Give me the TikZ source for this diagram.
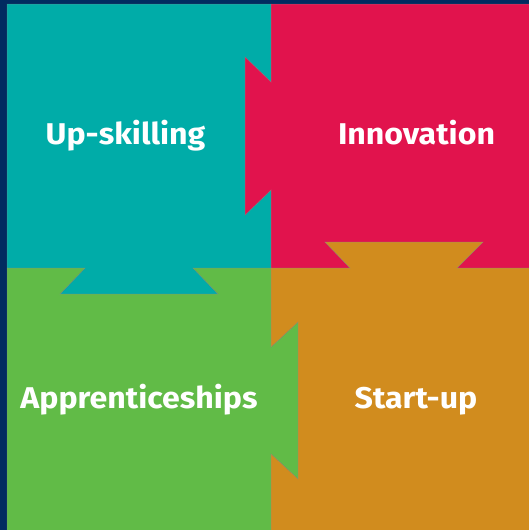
\documentclass[tikz,border=0pt]{standalone}
\usepackage{fontspec}
\setmainfont{Fira Sans}
\definecolor{navy}{HTML}{012B60}
\definecolor{teal}{HTML}{00ACA8}
\definecolor{crimson}{HTML}{E1134D}
\definecolor{leaf}{HTML}{61BB47}
\definecolor{amber}{HTML}{D18C1E}
\begin{document}
\begin{tikzpicture}[x=1pt,y=-1pt,
  piece/.style={draw=black!45,draw opacity=0.5,line width=0.5pt,line join=miter},
  lbl/.style={text=white,font=\fontsize{30}{31}\selectfont\bfseries,anchor=base,inner sep=0pt,xscale=1.07}]
\fill[navy] (0,0) rectangle (529,530);
\useasboundingbox (0,0) rectangle (529,530);
% teal (Up-skilling)
\filldraw[piece,fill=teal] (7,4)--(271,4)--(271,82)--(245,57)--(245,215)--(271,190)--(271,268)--(193,268)--(218,294)--(60,294)--(85,268)--(7,268)--cycle;
% crimson (Innovation)
\filldraw[piece,fill=crimson] (271,4)--(530,4)--(530,268)--(457,268)--(483,242)--(325,242)--(350,268)--(271,268)--(271,190)--(245,215)--(245,57)--(271,82)--cycle;
% green (Apprenticeships)
\filldraw[piece,fill=leaf] (7,268)--(85,268)--(60,294)--(218,294)--(193,268)--(271,268)--(271,347)--(298,322)--(298,479)--(271,454)--(271,531)--(7,531)--cycle;
% amber (Start-up)
\filldraw[piece,fill=amber] (271,268)--(350,268)--(325,242)--(483,242)--(457,268)--(530,268)--(530,531)--(271,531)--(271,454)--(298,479)--(298,322)--(271,347)--cycle;
\node[lbl] (up) at (125.5,144) {Up-skilling};
\node[lbl] (inn) at (416.5,144) {Innovation};
\node[lbl] (app) at (139,408) {Apprenticeships};
\node[lbl] (st) at (416,408) {Start-up};
\end{tikzpicture}
\end{document}
